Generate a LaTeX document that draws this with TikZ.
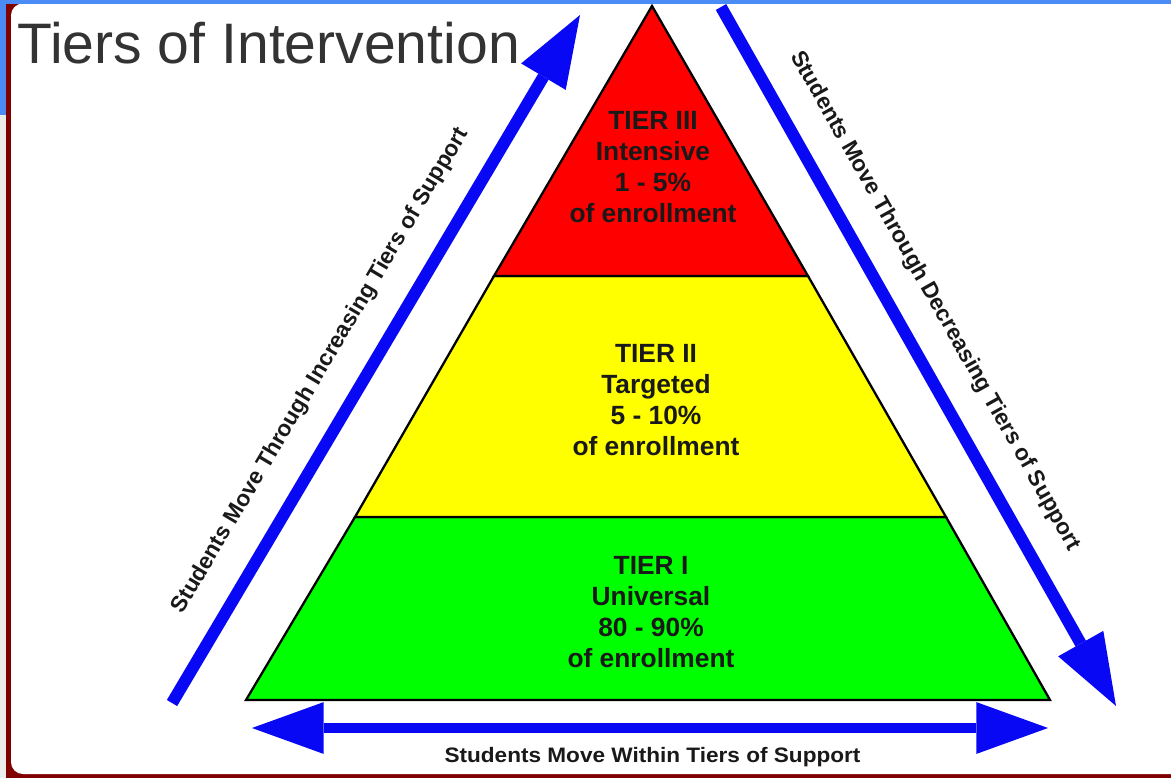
\documentclass[tikz,border=0pt]{standalone}
\usepackage{fontspec}
\setmainfont{Liberation Sans}
\usepackage{graphicx}
\usetikzlibrary{arrows.meta,calc}
\definecolor{slideblue}{RGB}{74,139,245}
\definecolor{framered}{RGB}{128,0,0}
\definecolor{sidegrey}{RGB}{236,236,236}
\definecolor{titlegrey}{RGB}{51,51,51}
\definecolor{arrowblue}{RGB}{8,8,245}
\definecolor{tierred}{RGB}{255,0,0}
\definecolor{tieryellow}{RGB}{255,255,0}
\definecolor{tiergreen}{RGB}{0,255,0}
\definecolor{textdark}{RGB}{25,25,25}
\begin{document}
\begin{tikzpicture}[x=0.02cm,y=-0.02cm,
  tier/.style={draw=black, line width=1.3pt, line join=miter},
  tierlabel/.style={align=center, inner sep=0pt, text=textdark,
    font=\fontsize{15pt}{17.6pt}\selectfont\bfseries},
  bigarrow/.style={draw=arrowblue, line width=6.8pt, -{Triangle[length=40.8pt,width=29.5pt,line width=0pt]}},
  arrowlabel/.style={inner sep=0pt, text=textdark, anchor=base,
    font=\fontsize{12.9pt}{15pt}\selectfont\bfseries}
]
\useasboundingbox (0,0) rectangle (1171,778);
% slide frame
\fill[white] (0,0) rectangle (1171,778);
\fill[sidegrey] (0,115) rectangle (6,778);
\fill[framered] (5.5,3.5) rectangle (1171,778);
\fill[white] (1171,3.5) [rounded corners=6.8pt] -- (11,3.5) -- (11,774) [sharp corners] -- (1171,774) -- cycle;
\fill[slideblue] (0,0) rectangle (6,115);
\fill[slideblue] (0,0) rectangle (1171,3.5);

% title
\node[anchor=base west, inner sep=0pt, text=titlegrey,
  font=\fontsize{32.5pt}{38pt}\selectfont] (title) at (17,63) {Tiers of Intervention};

% pyramid corners
\coordinate (A)  at (652,6);
\coordinate (L1) at (494,276);
\coordinate (R1) at (808,276);
\coordinate (L2) at (355,517);
\coordinate (R2) at (946,517);
\coordinate (BL) at (246,700);
\coordinate (BR) at (1050,700);

\filldraw[tier, fill=tiergreen]  (L2) -- (R2) -- (BR) -- (BL) -- cycle;
\filldraw[tier, fill=tieryellow] (L1) -- (R1) -- (R2) -- (L2) -- cycle;
\filldraw[tier, fill=tierred]    (A) -- (R1) -- (L1) -- cycle;

\node[tierlabel] (t3) at (653,167) {TIER III\\Intensive\\1 - 5\%\\of enrollment};
\node[tierlabel] (t2) at (656,400) {TIER II\\Targeted\\5 - 10\%\\of enrollment};
\node[tierlabel] (t1) at (651,612) {TIER I\\Universal\\80 - 90\%\\of enrollment};

% arrows
\coordinate (la1) at (172,703);
\coordinate (la2) at (580,15);
\coordinate (ra1) at (721,7);
\coordinate (ra2) at (1116,706);
\coordinate (ba1) at (252,728);
\coordinate (ba2) at (1048,728);

\draw[bigarrow] (la1) -- (la2);
\draw[bigarrow] (ra1) -- (ra2);
\draw[draw=arrowblue, line width=6.2pt, {Triangle[length=40.8pt,width=29.5pt,line width=0pt]}-{Triangle[length=40.8pt,width=29.5pt,line width=0pt]}] (ba1) -- (ba2);

\coordinate (lm) at ($(la1)!0.452!(la2)$);
\coordinate (rm) at ($(ra1)!0.45!(ra2)$);
\node[arrowlabel, rotate=59.3] (llab) at ($(lm)!20.4pt!90:(la2)$) {Students Move Through Increasing Tiers of Support};
\node[arrowlabel, rotate=-60.6] (rlab) at ($(rm)!20.4pt!90:(ra2)$) {Students Move Through Decreasing Tiers of Support};
\node[arrowlabel] (blab) at (652.5,762) {\scalebox{1.08}[1]{\fontsize{11.9pt}{14pt}\selectfont\bfseries Students Move Within Tiers of Support}};
\end{tikzpicture}
\end{document}
